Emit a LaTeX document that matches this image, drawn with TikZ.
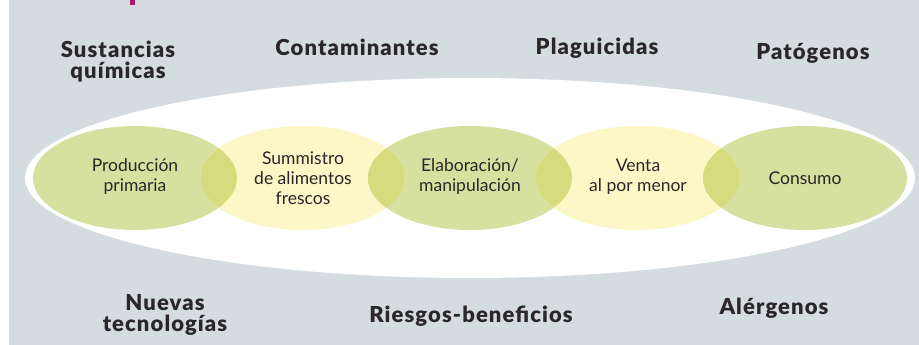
\documentclass[tikz,border=0pt]{standalone}
\usepackage{fontspec}
\setmainfont{Lato}
\newfontfamily\negra[LetterSpace=5]{Lato Black}
\definecolor{fondo}{HTML}{D5DCE0}
\definecolor{verde}{HTML}{D6E09F}
\definecolor{amarillo}{HTML}{FDF6C6}
\definecolor{cruce}{HTML}{D6DB7E}
\definecolor{texto}{HTML}{2B2627}
\definecolor{rosa}{HTML}{B3186E}
\begin{document}
\begin{tikzpicture}[x=1pt,y=-1pt,line join=round,
    riesgo/.style={font=\negra\fontsize{22}{21}\selectfont,text=texto,align=center},
    etapa/.style={font=\fontsize{17.5}{20}\selectfont,text=texto,align=center}]
    \useasboundingbox (0,0) rectangle (919,345);
    \fill[fondo] (9,0) rectangle (919,345);
    \fill[rosa] (130,0) rectangle (134.5,5);
    \fill[white] (470,178) ellipse (445 and 100);
    % etapas de la cadena
    \foreach \i/\c in {1/verde,2/amarillo,3/verde,4/amarillo,5/verde}
        \fill[\c] ({135+167.5*(\i-1)},178) ellipse (102 and 52);
    % zonas de cruce
    \foreach \i in {1,...,4}{
        \begin{scope}
            \clip ({135+167.5*(\i-1)},178) ellipse (102 and 52);
            \fill[cruce] ({135+167.5*\i},178) ellipse (102 and 52);
        \end{scope}}
    \node[etapa] (prod) at (135,177) {Producción\\primaria};
    \node[etapa] (sumi) at (303,178) {Summistro\\de alimentos\\frescos};
    \node[etapa] (elab) at (470,177) {Elaboración/\\manipulación};
    \node[etapa] (vent) at (638,177) {Venta\\al por menor};
    \node[etapa] (cons) at (805,178) {Consumo};
    % riesgos
    \node[riesgo] (quim) at (118,62) {Sustancias\\químicas};
    \node[riesgo] (cont) at (357,47) {Contaminantes};
    \node[riesgo] (plag) at (597,48) {Plaguicidas};
    \node[riesgo] (pato) at (813,53) {Patógenos};
    \node[riesgo] (tecn) at (165,315) {Nuevas\\tecnologías};
    \node[riesgo] (bene) at (471,316) {Riesgos-beneficios};
    \node[riesgo] (aler) at (774,308) {Alérgenos};
\end{tikzpicture}
\end{document}
